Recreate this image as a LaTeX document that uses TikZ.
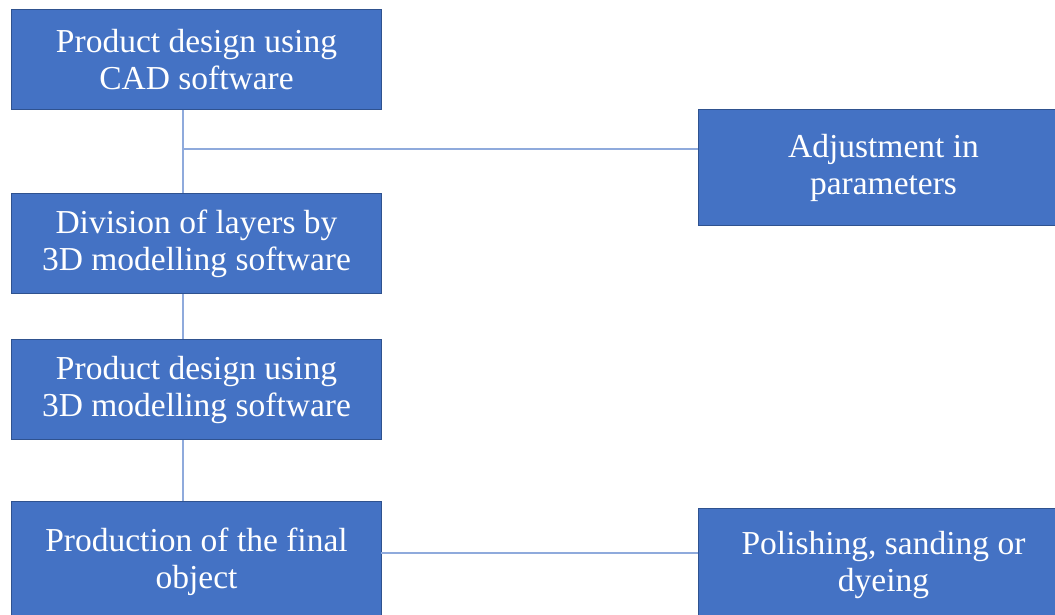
\documentclass[tikz,border=0pt]{standalone}
\usepackage{fontspec}
\setmainfont{Liberation Serif}
\definecolor{boxfill}{HTML}{4472C4}
\definecolor{boxedge}{HTML}{2F528F}
\definecolor{linkcol}{HTML}{8FAADC}
\tikzset{
  stepbox/.style={draw=boxedge, line width=1pt, fill=boxfill, text=white,
    rectangle, anchor=north west, align=center, inner sep=0pt,
    minimum width=370pt, font=\fontsize{33.5}{37}\selectfont},
  link/.style={draw=linkcol, line width=1.5pt}
}
\begin{document}
\begin{tikzpicture}[x=1pt,y=-1pt]
\useasboundingbox (0,0) rectangle (1055,615);
\clip (0,0) rectangle (1055,615);
\node[stepbox, minimum height=100pt] (b1) at (11,9) {Product design using\\CAD software};
\node[stepbox, minimum height=100pt] (b2) at (11,193) {Division of layers by\\3D modelling software};
\node[stepbox, minimum height=100pt] (b3) at (11,339) {Product design using\\3D modelling software};
\node[stepbox, minimum height=120pt] (b4) at (11,501) {Production of the final\\object};
\node[stepbox, minimum height=116pt] (r1) at (698,109) {Adjustment in\\parameters};
\node[stepbox, minimum height=112pt] (r2) at (698,508) {Polishing, sanding or\\dyeing};
\coordinate (j) at (183,149);
\coordinate (k) at (381,553);
\draw[link] (b1.south -| j) -- (b2.north -| j);
\draw[link] (j) -- (r1.west |- j);
\draw[link] (b2.south -| j) -- (b3.north -| j);
\draw[link] (b3.south -| j) -- (b4.north -| j);
\draw[link] (k) -- (r2.west |- k);
\end{tikzpicture}
\end{document}
